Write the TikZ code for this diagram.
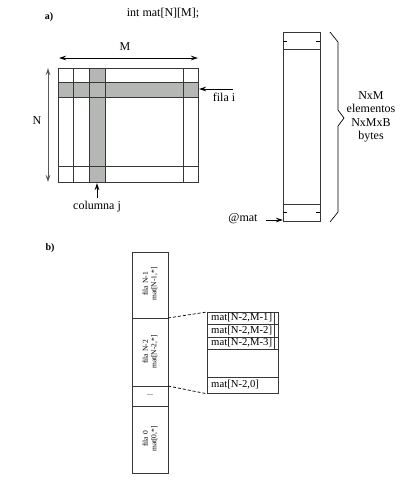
\documentclass[tikz,border=0pt]{standalone}
\usepackage{fontspec}
\setmainfont{Liberation Serif}
\usetikzlibrary{arrows.meta}
\definecolor{cellgray}{RGB}{180,183,180}
\definecolor{linegray}{RGB}{55,55,55}
\begin{document}
\begin{tikzpicture}[x=1pt,y=-1pt,
  txt/.style={font=\fontsize{12}{14}\selectfont, inner sep=0pt},
  ttxt/.style={font=\fontsize{10.7}{12}\selectfont, inner sep=0pt, anchor=west},
  lbl/.style={font=\bfseries\fontsize{10}{11}\selectfont, inner sep=0pt},
  small/.style={font=\fontsize{7.5}{8.5}\selectfont, inner sep=0pt, rotate=90, align=center},
  gridline/.style={draw=linegray, line width=0.8pt},
  box/.style={draw=linegray, line width=0.8pt, inner sep=0pt, anchor=north west},
  arr/.style={-{Stealth[length=7pt,width=4.5pt]}, line width=0.8pt},
  dbl/.style={{Stealth[length=7pt,width=4.5pt]}-{Stealth[length=7pt,width=4.5pt]}, line width=0.8pt},
]
\useasboundingbox (0,0) rectangle (404,491);

% ---------- a) ----------
\node[lbl] (la) at (49,17) {a)};
\node[txt] (decl) at (163,13) {int mat[N][M];};

% matrix
\fill[cellgray] (58,82) rectangle (198,97);
\fill[cellgray] (89,68) rectangle (105,182);
\foreach \x in {73,89,105,183} \draw[gridline] (\x,68) -- (\x,182);
\foreach \y in {82,97,166} \draw[gridline] (58,\y) -- (198,\y);
\node[box, minimum width=140pt, minimum height=114pt] (mat) at (58,68) {};

% M arrow
\node[txt] (Mlab) at (125,47) {M};
\coordinate (mL) at (59,58);
\coordinate (mR) at (198,58);
\draw[dbl] (mL) -- (mR);

% N arrow
\node[txt] (Nlab) at (37,121) {N};
\coordinate (nT) at (48,68);
\coordinate (nB) at (48,182);
\draw[dbl, draw=black!65] (nT) -- (nB);

% fila i
\node[txt] (fila) at (224,97) {fila i};
\coordinate (fS) at (233,89);
\coordinate (fE) at (199,89);
\draw[arr] (fS) -- (fE);

% columna j
\node[txt] (colj) at (97,207) {columna j};
\coordinate (cS) at (97,198);
\coordinate (cE) at (97,183);
\draw[arr] (cS) -- (cE);

% memory column
\node[box, minimum width=37pt, minimum height=189pt] (mem) at (283,32) {};
\draw[gridline] (283,49) -- (320,49);
\draw[gridline] (283,204) -- (320,204);
\draw[line width=0.7pt] (283,41) -- (287,41) (316,41) -- (320,41);
\draw[line width=0.7pt] (283,212) -- (287,212) (316,212) -- (320,212);

% brace
\draw[line width=0.7pt] (330,32) -- (338,42) -- (338,110) -- (344,118) -- (338,126) -- (338,212) -- (330,222);
\node[txt, align=center, font=\fontsize{12}{13.5}\selectfont] (sz) at (371,117) {NxM\\elementos\\NxMxB\\bytes};

% @mat
\node[txt] (at) at (243,219) {@mat};
\coordinate (aS) at (266,220);
\draw[arr] (aS) -- (mem.south west |- aS);

% ---------- b) ----------
\node[lbl] (lb) at (50,248) {b)};

\node[box, minimum width=36pt, minimum height=221pt] (colb) at (132,252) {};
\draw[gridline] (132,318) -- (168,318);
\draw[gridline] (132,386) -- (168,386);
\draw[gridline] (132,406) -- (168,406);
\node[small] (r1) at (150,284) {fila N-1\\mat[N-1,*]};
\node[small] (r2) at (150,352) {fila N-2\\mat[N-2,*]};
\node[txt, font=\fontsize{8}{9}\selectfont] (dots) at (150,395) {...};
\node[small] (r0) at (150,439) {fila 0\\mat[0,*]};

% detail table
\node[box, minimum width=71pt, minimum height=81pt] (tab) at (207,312) {};
\foreach \y in {324,337,349,377} \draw[gridline] (207,\y) -- (278,\y);
\draw[gridline] (274,312) -- (274,349);
\node[ttxt] (e1) at (211,318) {mat[N-2,M-1]};
\node[ttxt] (e2) at (211,330.5) {mat[N-2,M-2]};
\node[ttxt] (e3) at (211,343) {mat[N-2,M-3]};
\node[ttxt] (e0) at (211,385) {mat[N-2,0]};

\coordinate (d1) at (168,318);
\coordinate (d2) at (168,386);
\draw[line width=0.7pt, dash pattern=on 3pt off 2pt] (d1) -- (tab.north west);
\draw[line width=0.7pt, dash pattern=on 3pt off 2pt] (d2) -- (tab.south west);
\end{tikzpicture}
\end{document}
